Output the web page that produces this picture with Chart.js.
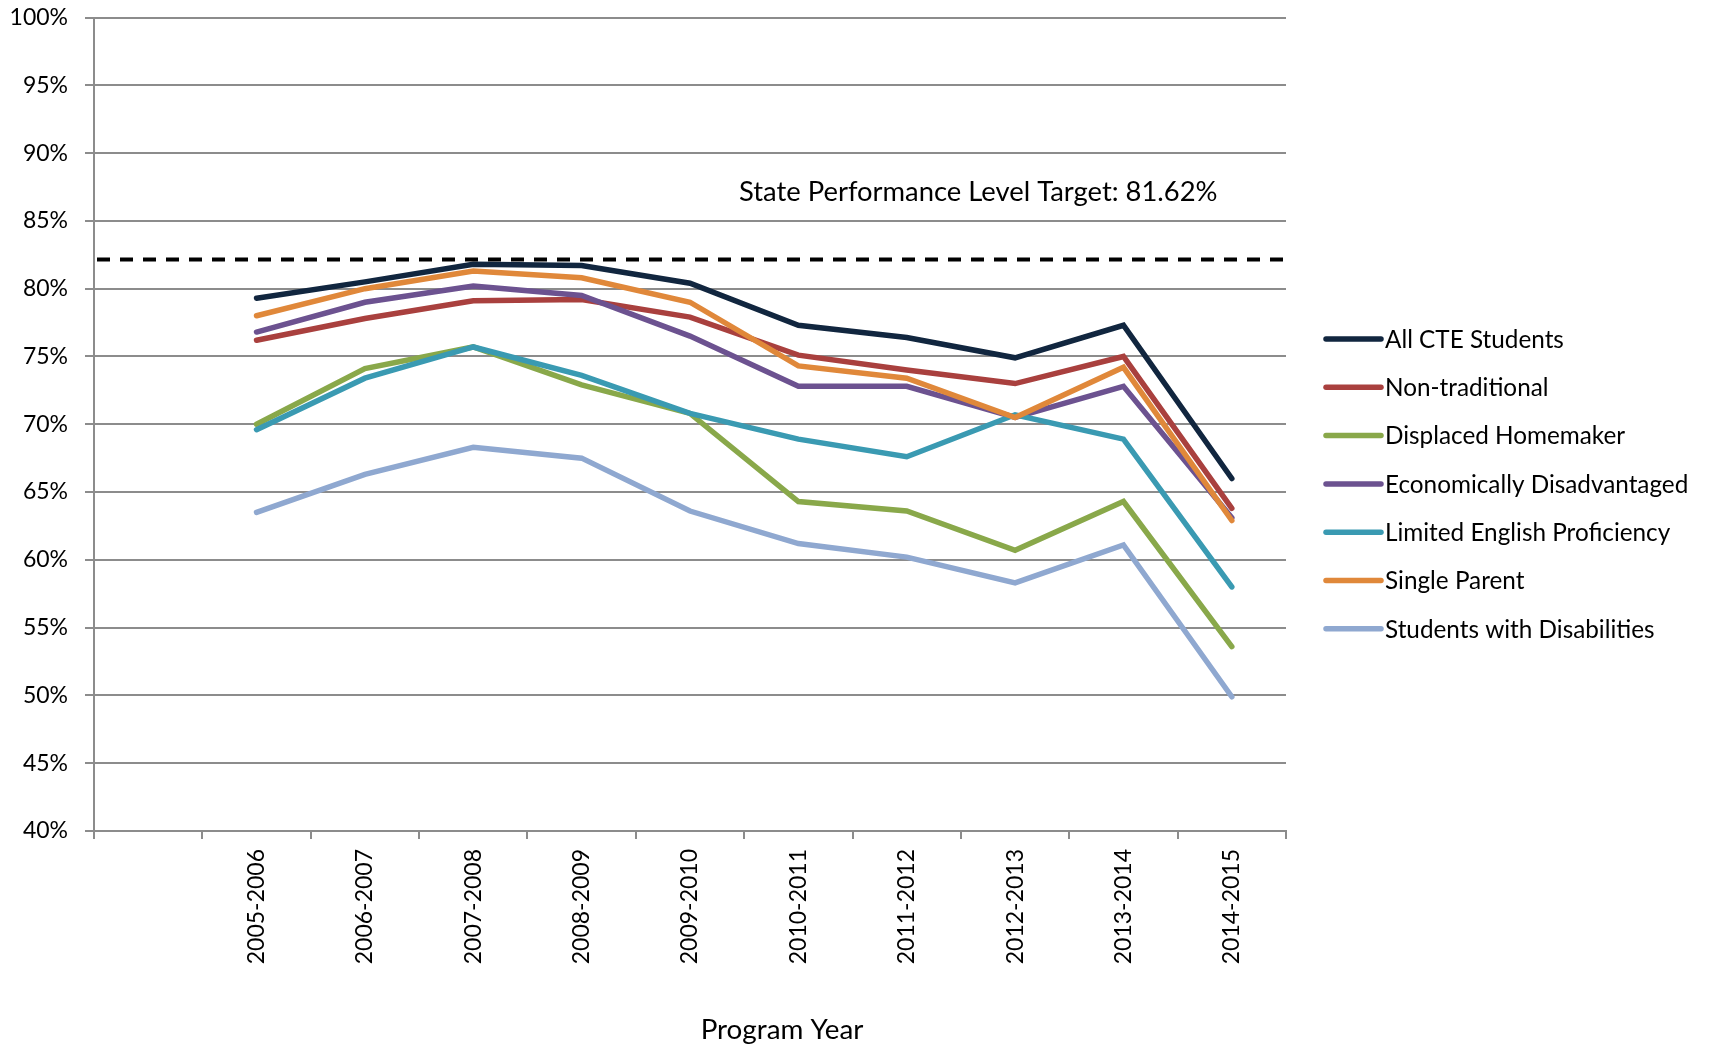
<!DOCTYPE html>
<html>
<head>
<meta charset="utf-8">
<script src="https://cdn.jsdelivr.net/npm/chart.js@4.4.0/dist/chart.umd.min.js"></script>
<style>
  html, body { margin: 0; padding: 0; background: #fff; }
  #wrap { width: 1709px; height: 1047px; position: relative; }
</style>
</head>
<body>
<div id="wrap"><canvas id="chart"></canvas></div>
<script>
// first slot is left empty, as in the original sheet
const programYears = ['', '2005-2006', '2006-2007', '2007-2008', '2008-2009', '2009-2010',
  '2010-2011', '2011-2012', '2012-2013', '2013-2014', '2014-2015'];

const allCTE       = [null, 79.3, 80.5, 81.8, 81.7, 80.4, 77.3, 76.4, 74.9, 77.3, 66.0];
const nonTrad      = [null, 76.2, 77.8, 79.1, 79.2, 77.9, 75.1, 74.0, 73.0, 75.0, 63.8];
const displaced    = [null, 70.0, 74.1, 75.7, 72.9, 70.8, 64.3, 63.6, 60.7, 64.3, 53.6];
const econDisadv   = [null, 76.8, 79.0, 80.2, 79.5, 76.5, 72.8, 72.8, 70.5, 72.8, 63.1];
const limitedEng   = [null, 69.6, 73.4, 75.7, 73.6, 70.8, 68.9, 67.6, 70.7, 68.9, 58.0];
const singleParent = [null, 78.0, 80.0, 81.3, 80.8, 79.0, 74.3, 73.4, 70.5, 74.2, 62.9];
const disabilities = [null, 63.5, 66.3, 68.3, 67.5, 63.6, 61.2, 60.2, 58.3, 61.1, 49.9];

const seriesNames = ['All CTE Students', 'Non-traditional', 'Displaced Homemaker',
  'Economically Disadvantaged', 'Limited English Proficiency', 'Single Parent',
  'Students with Disabilities'];
const seriesValues = [allCTE, nonTrad, displaced, econDisadv, limitedEng, singleParent, disabilities];
const seriesColors = ['#11263f', '#a9403e', '#89a84a', '#6c5290', '#3a9ab2', '#e0883a', '#8fa8d0'];

const targetLevel = 82.15; // where the dashed line sits in the picture
const targetLabel = 'State Performance Level Target: 81.62%';
const yTicks = { min: 40, max: 100, step: 5 };

const FONT = 'Lato, "Open Sans", sans-serif';
const GRID = '#8c8c8c';

const overlay = {
  id: 'overlay',
  afterDatasetsDraw(chart) {
    const { ctx, chartArea, scales } = chart;
    const y = scales.y.getPixelForValue(targetLevel);
    ctx.save();
    ctx.strokeStyle = '#000';
    ctx.lineWidth = 4;
    ctx.setLineDash([13, 10]);
    ctx.beginPath();
    ctx.moveTo(chartArea.left + 3, y);
    ctx.lineTo(chartArea.right, y);
    ctx.stroke();
    ctx.restore();
  },
  afterDraw(chart) {
    const { ctx, chartArea } = chart;
    ctx.save();
    ctx.fillStyle = '#000';

    // target note
    ctx.font = '27.4px ' + FONT;
    ctx.textAlign = 'left';
    ctx.textBaseline = 'alphabetic';
    ctx.fillText(targetLabel, 739, 201);

    // axis title
    ctx.font = '27.8px ' + FONT;
    ctx.textAlign = 'center';
    ctx.fillText('Program Year', 782, 1039);

    // legend
    ctx.font = '24.3px ' + FONT;
    ctx.textAlign = 'left';
    ctx.textBaseline = 'middle';
    const x0 = chartArea.right + 40;
    chart.data.datasets.forEach((ds, i) => {
      const y = 339 + i * 48.3;
      ctx.strokeStyle = ds.borderColor;
      ctx.lineWidth = 5.5;
      ctx.lineCap = 'round';
      ctx.beginPath();
      ctx.moveTo(x0, y);
      ctx.lineTo(x0 + 55, y);
      ctx.stroke();
      ctx.fillText(ds.label, x0 + 59, y + 1);
    });
    ctx.restore();
  }
};

new Chart(document.getElementById('chart'), {
  type: 'line',
  data: {
    labels: programYears,
    datasets: seriesNames.map((name, i) => ({
      label: name,
      data: seriesValues[i],
      borderColor: seriesColors[i],
      backgroundColor: seriesColors[i],
      borderWidth: 5.5,
      borderCapStyle: 'round',
      borderJoinStyle: 'miter',
      pointRadius: 0,
      tension: 0,
      order: seriesNames.length - i,
    })),
  },
  options: {
    responsive: true,
    maintainAspectRatio: false,
    animation: false,
    layout: { padding: { top: 17.5, right: 423, left: 0, bottom: 0 } },
    plugins: {
      legend: { display: false },
      tooltip: { enabled: false },
    },
    scales: {
      x: {
        offset: true,
        grid: {
          offset: true,
          drawOnChartArea: false,
          drawTicks: true,
          tickLength: 8,
          color: GRID,
          lineWidth: 2,
        },
        border: { color: GRID, width: 2 },
        ticks: {
          color: '#000',
          font: { family: FONT, size: 23 },
          minRotation: 90,
          maxRotation: 90,
          autoSkip: false,
          padding: 10,
        },
        afterFit(scale) {
          scale.height = 216;
          scale.paddingLeft = 0;
          scale.paddingRight = 0;
        },
      },
      y: {
        min: yTicks.min,
        max: yTicks.max,
        grid: { color: GRID, lineWidth: 2, tickLength: 9 },
        border: { color: GRID, width: 2 },
        ticks: {
          stepSize: yTicks.step,
          color: '#000',
          font: { family: FONT, size: 23 },
          padding: 17,
          callback: (v) => v + '%',
        },
        afterFit(scale) {
          scale.width = 94;
          scale.paddingTop = 0;
          scale.paddingBottom = 0;
        },
      },
    },
  },
  plugins: [overlay],
});
</script>
</body>
</html>
